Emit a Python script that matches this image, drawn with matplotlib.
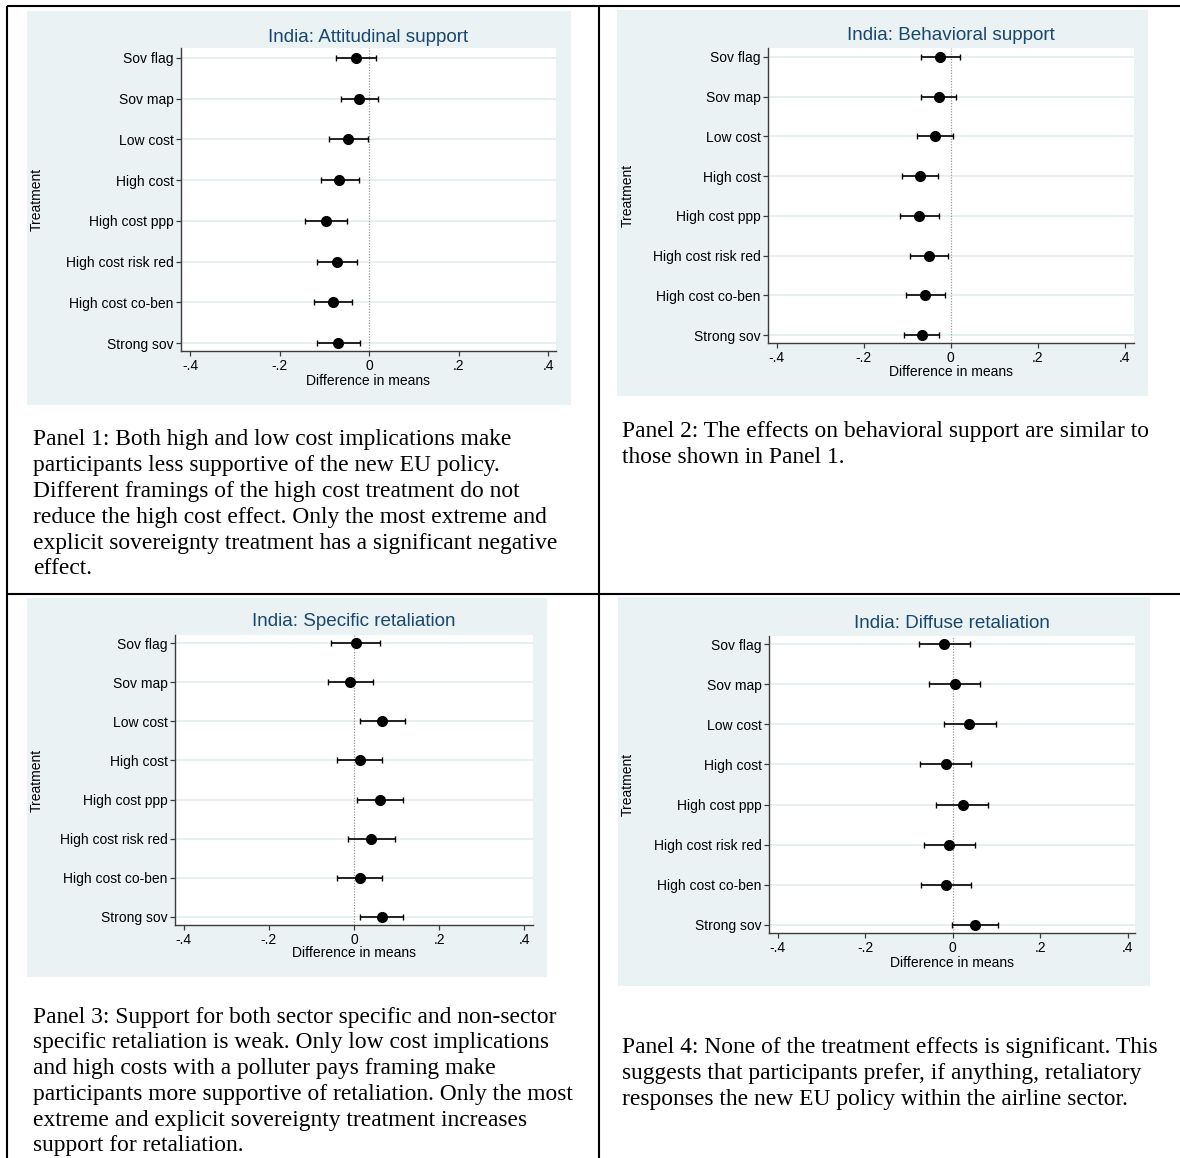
import numpy as np
import matplotlib
matplotlib.use("Agg")
import matplotlib.pyplot as plt
from matplotlib.patches import Rectangle
from matplotlib.lines import Line2D

# canvas in pixels
W, H = 1180, 1158

treatments = ["Sov flag", "Sov map", "Low cost", "High cost", "High cost ppp",
              "High cost risk red", "High cost co-ben", "Strong sov"]

xticks = [-0.4, -0.2, 0, 0.2, 0.4]
xtick_labels = ["-.4", "-.2", "0", ".2", ".4"]

# Panel 1: attitudinal support
att_est = [-0.030, -0.023, -0.048, -0.067, -0.098, -0.073, -0.081, -0.071]
att_lo = [-0.075, -0.063, -0.091, -0.109, -0.143, -0.117, -0.124, -0.118]
att_hi = [0.015, 0.019, -0.004, -0.024, -0.051, -0.028, -0.038, -0.022]

# Panel 2: behavioral support
beh_est = [-0.024, -0.028, -0.037, -0.071, -0.072, -0.049, -0.059, -0.067]
beh_lo = [-0.069, -0.069, -0.077, -0.111, -0.117, -0.093, -0.102, -0.107]
beh_hi = [0.022, 0.013, 0.005, -0.029, -0.026, -0.007, -0.014, -0.027]

# Panel 3: specific retaliation
spe_est = [0.004, -0.009, 0.065, 0.013, 0.061, 0.041, 0.013, 0.065]
spe_lo = [-0.053, -0.061, 0.014, -0.040, 0.007, -0.013, -0.040, 0.015]
spe_hi = [0.061, 0.045, 0.119, 0.066, 0.116, 0.097, 0.066, 0.116]

# Panel 4: diffuse retaliation
dif_est = [-0.019, 0.005, 0.038, -0.015, 0.023, -0.009, -0.015, 0.052]
dif_lo = [-0.078, -0.053, -0.020, -0.075, -0.038, -0.066, -0.073, -0.001]
dif_hi = [0.040, 0.063, 0.099, 0.043, 0.081, 0.050, 0.041, 0.104]

titles = ["India: Attitudinal support", "India: Behavioral support",
          "India: Specific retaliation", "India: Diffuse retaliation"]

captions = [
    ["Panel 1: Both high and low cost implications make",
     "participants less supportive of the new EU policy.",
     "Different framings of the high cost treatment do not",
     "reduce the high cost effect. Only the most extreme and",
     "explicit sovereignty treatment has a significant negative",
     "effect."],
    ["Panel 2: The effects on behavioral support are similar to",
     "those shown in Panel 1."],
    ["Panel 3: Support for both sector specific and non-sector",
     "specific retaliation is weak. Only low cost implications",
     "and high costs with a polluter pays framing make",
     "participants more supportive of retaliation. Only the most",
     "extreme and explicit sovereignty treatment increases",
     "support for retaliation."],
    ["Panel 4: None of the treatment effects is significant. This",
     "suggests that participants prefer, if anything, retaliatory",
     "responses the new EU policy within the airline sector."],
]

BG = "#eaf2f3"
NAVY = "#1a476f"
GRID = "#e3ecee"
AXC = "#3c3c3c"
SANS = ["Liberation Sans", "DejaVu Sans"]
SERIF = ["Liberation Serif", "DejaVu Serif"]


def fx(x):
    return x / W


def fy(y):
    return 1 - y / H


fig = plt.figure(figsize=(W / 100, H / 100), dpi=100)
fig.patch.set_facecolor("white")

# panel layout in pixels: grey box, plot box, title y, xlabel y, Treatment x, caption start
layout = [
    dict(grey=(27, 11, 571, 405), plot=(181, 48, 556, 351), xlim=(-0.421, 0.417),
         ylim=(7.19, -0.24), ty=37, xly=381, trx=37, cap=(33, 440)),
    dict(grey=(617, 10, 1148, 396), plot=(768, 48, 1134, 343), xlim=(-0.420, 0.421),
         ylim=(7.20, -0.22), ty=35, xly=372, trx=628, cap=(622, 432)),
    dict(grey=(27, 598, 547, 977), plot=(175, 635, 533, 925), xlim=(-0.420, 0.420),
         ylim=(7.21, -0.21), ty=622, xly=953, trx=37, cap=(33, 1017)),
    dict(grey=(618, 597, 1150, 986), plot=(769, 636, 1135, 933), xlim=(-0.420, 0.417),
         ylim=(7.21, -0.21), ty=624, xly=963, trx=628, cap=(622, 1048)),
]

series = [(att_est, att_lo, att_hi), (beh_est, beh_lo, beh_hi),
          (spe_est, spe_lo, spe_hi), (dif_est, dif_lo, dif_hi)]

ypos = np.arange(len(treatments))

for i, (lay, (est, lo, hi)) in enumerate(zip(layout, series)):
    gx0, gy0, gx1, gy1 = lay["grey"]
    fig.add_artist(Rectangle((fx(gx0), fy(gy1)), (gx1 - gx0) / W, (gy1 - gy0) / H,
                             transform=fig.transFigure, facecolor=BG,
                             edgecolor="none", zorder=0))

    px0, py0, px1, py1 = lay["plot"]
    ax = fig.add_axes([fx(px0), fy(py1), (px1 - px0) / W, (py1 - py0) / H])
    ax.set_facecolor("white")

    est = np.array(est)
    lo = np.array(lo)
    hi = np.array(hi)

    for y in ypos:
        ax.axhline(y, color=GRID, lw=1.2, zorder=1)
    ax.axvline(0, color="#9a9a9a", lw=0.9, ls=(0, (1, 1.2)), zorder=2)
    ax.errorbar(est, ypos, xerr=[est - lo, hi - est], fmt="o", color="black",
                ms=7.0, elinewidth=1.2, capsize=2.4, capthick=1.0, zorder=3)

    ax.set_xlim(*lay["xlim"])
    ax.set_ylim(*lay["ylim"])
    ax.set_xticks(xticks)
    ax.set_xticklabels(xtick_labels, fontsize=10, family=SANS)
    ax.set_yticks(ypos)
    ax.set_yticklabels(treatments, fontsize=10, family=SANS)
    ax.tick_params(axis="both", length=3.8, width=0.9, color=AXC, pad=1.5)
    ax.tick_params(axis="x", pad=2.0)

    for s in ["top", "right"]:
        ax.spines[s].set_visible(False)
    for s in ["left", "bottom"]:
        ax.spines[s].set_color(AXC)
        ax.spines[s].set_linewidth(1.0)

    cx = (px0 + px1) / 2
    fig.text(fx(cx), fy(lay["ty"]), titles[i], ha="center", va="center",
             fontsize=13.6, color=NAVY, family=SANS)
    fig.text(fx(cx), fy(lay["xly"]), "Difference in means", ha="center",
             va="center", fontsize=10, family=SANS)
    fig.text(fx(lay["trx"]), fy((py0 + py1) / 2), "Treatment", ha="center",
             va="center", rotation=90, fontsize=10, family=SANS)

    # caption under the chart
    cx0, cy0 = lay["cap"]
    for k, line in enumerate(captions[i]):
        fig.text(fx(cx0), fy(cy0 + 25.8 * k), line, ha="left", va="center",
                 fontsize=16.9, family=SERIF, color="black")

# table borders
lw = 1.5
for xs, ys in [((7, 1180), (6, 6)), ((7, 7), (6, 1158)),
               ((599, 599), (6, 1158)), ((7, 1180), (594, 594))]:
    fig.add_artist(Line2D([fx(xs[0]), fx(xs[1])], [fy(ys[0]), fy(ys[1])],
                          transform=fig.transFigure, color="black", lw=lw,
                          solid_capstyle="butt", zorder=5))

fig.savefig("out.png", dpi=100)
